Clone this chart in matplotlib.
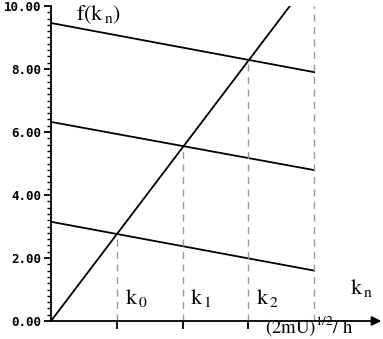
import numpy as np
import matplotlib.pyplot as plt
from matplotlib.ticker import MultipleLocator

plt.rcParams['mathtext.fontset'] = 'stix'

# data
k_pts = [1, 2, 3]                      # k0, k1, k2
line_x = [0, 4]
lines_y = [[3.15, 1.60], [6.32, 4.79], [9.46, 7.90]]
diag_x = [0, 3.63]
diag_y = [0, 10.0]
cross_y = [2.75, 5.5, 8.25]
k_labels = [r'$\mathrm{k}_{\,0}$', r'$\mathrm{k}_{\,1}$', r'$\mathrm{k}_{\,2}$']
yticks = [0, 2, 4, 6, 8, 10]

fig = plt.figure(figsize=(3.83, 3.39), dpi=100)
ax = fig.add_axes([51 / 383, 18 / 339, 329 / 383, 315 / 339])

for ys in lines_y:
    ax.plot(line_x, ys, color='black', lw=1.3)
ax.plot(diag_x, diag_y, color='black', lw=1.3)

# dashed verticals
for k, cy in zip(k_pts, cross_y):
    ax.plot([k, k], [0, cy], color='#999999', ls=(0, (5, 4)), lw=1)
ax.plot([4, 4], [0, 10], color='#999999', ls=(0, (5, 4)), lw=1)

ax.set_xlim(0, 5)
ax.set_ylim(0, 10)
ax.spines['top'].set_visible(False)
ax.spines['right'].set_visible(False)
ax.spines['bottom'].set_visible(False)
ax.spines['left'].set_linewidth(1.3)

# x axis with arrow
ax.annotate('', xy=(5.02, 0), xytext=(0, 0), xycoords='data',
            arrowprops=dict(arrowstyle='-|>', color='black', lw=1.3,
                            mutation_scale=14, shrinkA=0, shrinkB=0),
            annotation_clip=False)

ax.set_xticks(k_pts)
ax.set_xticklabels([])
ax.tick_params(axis='x', length=6, width=1.3, direction='out', bottom=True)

ax.set_yticks(yticks)
ax.set_yticklabels(['%.2f' % v for v in yticks], family='DejaVu Sans Mono',
                   fontweight='bold', fontsize=9)
ax.yaxis.set_minor_locator(MultipleLocator(0.2))
ax.tick_params(axis='y', which='major', length=5, width=1.3, pad=2)
ax.tick_params(axis='y', which='minor', length=3, width=1)

for k, lab in zip(k_pts, k_labels):
    ax.text(k + 0.12, 0.55, lab, fontsize=16, ha='left', va='baseline')

ax.text(0.38, 9.55, r'$\mathrm{f(k}_{\,\mathrm{n}}\mathrm{)}$', fontsize=16,
        ha='left', va='baseline')
ax.text(4.55, 0.85, r'$\mathrm{k}_{\,\mathrm{n}}$', fontsize=16,
        ha='left', va='baseline')
ax.text(3.25, -0.38, r'$\mathrm{(2mU)}^{1/2}\mathrm{/\ h}$', fontsize=13.5,
        ha='left', va='baseline', clip_on=False)

fig.savefig('out.png', dpi=100)
